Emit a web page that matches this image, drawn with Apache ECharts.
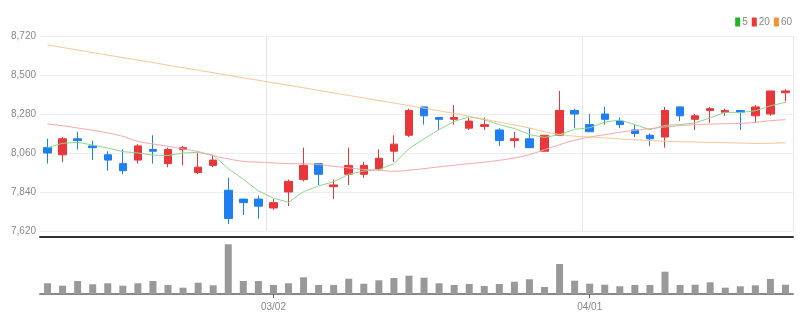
<!DOCTYPE html>
<html>
<head>
<meta charset="utf-8">
<script src="https://cdn.jsdelivr.net/npm/echarts@6/dist/echarts.min.js"></script>
<style>html,body{margin:0;padding:0;background:#fff;}#chart{width:810px;height:330px;}</style>
</head>
<body>
<div id="chart"></div>
<script>
var dates = ['02/08','02/09','02/10','02/11','02/14','02/15','02/16','02/17','02/18','02/21',
  '02/22','02/23','02/24','02/25','02/28','03/02','03/03','03/04','03/07','03/08',
  '03/10','03/11','03/14','03/15','03/16','03/17','03/18','03/21','03/22','03/23',
  '03/24','03/25','03/28','03/29','03/30','03/31','04/01','04/04','04/05','04/06',
  '04/07','04/08','04/11','04/12','04/13','04/14','04/15','04/18','04/19','04/20'];
var tickLabels = ['03/02','04/01'];
var opens  = [8090,8050,8140,8100,8050,8000,8020,8080,8000,8080,7950,7990,7850,7800,7800,7750,7840,7910,8000,7870,
              7940,7940,7970,8070,8160,8320,8260,8250,8200,8210,8190,8130,8140,8070,8160,8300,8220,8280,8240,8190,
              8160,8150,8320,8250,8300,8290,8300,8270,8280,8400];
var closes = [8060,8140,8130,8090,8020,7960,8100,8070,8080,8090,7980,8020,7690,7780,7760,7780,7900,7990,7940,7880,
              7990,7990,8030,8110,8300,8270,8250,8260,8240,8220,8130,8140,8090,8160,8300,8280,8180,8250,8220,8170,
              8140,8300,8270,8270,8310,8300,8290,8320,8410,8410];
var lows   = [8000,8010,8080,8020,7960,7940,8000,8000,7980,7990,7940,7980,7660,7710,7690,7740,7760,7900,7880,7800,
              7880,7920,7960,8010,8150,8220,8190,8220,8190,8190,8100,8090,8090,8070,8160,8200,8180,8220,8200,8150,
              8100,8090,8240,8190,8230,8270,8190,8230,8270,8350];
var highs  = [8140,8150,8180,8130,8070,8080,8110,8160,8090,8100,8060,8050,7920,7800,7820,7800,7910,8090,8000,7910,
              8090,8010,8080,8160,8310,8320,8260,8330,8260,8260,8200,8180,8200,8160,8410,8310,8280,8320,8260,8220,
              8170,8320,8320,8280,8320,8310,8300,8330,8410,8420];
var volumes = [107,83,130,97,107,83,107,130,90,63,113,87,497,130,130,90,107,167,90,90,
               153,103,137,160,183,163,107,90,100,80,100,123,147,70,300,133,103,93,77,90,
               90,223,90,93,117,63,77,87,150,93];
var ma5  = [8090,8115,8120,8105,8088,8068,8060,8048,8046,8060,8064,8048,7972,7912,7846,7806,7782,7842,7874,7898,
            7940,7958,7966,8000,8084,8140,8192,8238,8264,8248,8220,8198,8164,8148,8164,8194,8202,8234,8246,8220,
            8192,8216,8220,8230,8258,8290,8288,8298,8326,8346];
var ma20 = [8223,8214,8201,8188,8173,8154,8126,8111,8098,8083,8068,8045,8027,8013,8008,8004,8000,7999,7995,7985,
            7976,7967,7963,7957,7963,7972,7982,7991,8000,8008,8019,8032,8051,8079,8107,8132,8150,8163,8177,8188,
            8197,8207,8214,8220,8223,8225,8227,8233,8242,8248];
var ma60 = [8669,8655,8641,8626,8612,8598,8584,8570,8555,8541,8527,8513,8498,8484,8470,8456,8442,8428,8413,8399,
            8385,8370,8356,8342,8327,8313,8298,8283,8267,8251,8234,8218,8201,8180,8165,8155,8150,8145,8139,8134,
            8130,8126,8124,8122,8120,8118,8116,8114,8115,8118];
var priceTicks = [7620, 8720, 220];

var FONT = "'Liberation Sans Narrow','Liberation Sans',sans-serif";
var candleData = dates.map(function (d, i) { return [opens[i], closes[i], lows[i], highs[i]]; });
function isTick(idx) { return tickLabels.indexOf(dates[idx]) >= 0; }

var chart = echarts.init(document.getElementById('chart'), null, {renderer: 'canvas'});
chart.setOption({
  animation: false,
  backgroundColor: '#fff',
  legend: {
    data: ['5', '20', '60'],
    right: 18, top: 17,
    icon: 'rect', itemWidth: 5, itemHeight: 9, itemGap: 4,
    padding: 0,
    textStyle: {color: '#888', fontSize: 10, fontFamily: FONT, padding: [0, 0, 0, -3]}
  },
  grid: [
    {left: 40, right: 17, top: 36, height: 195},
    {left: 40, right: 17, top: 238, height: 56}
  ],
  xAxis: [
    {
      type: 'category', gridIndex: 0, data: dates, boundaryGap: true,
      offset: 6,
      axisLine: {show: true, lineStyle: {color: '#333', width: 2}},
      axisTick: {show: false}, axisLabel: {show: false},
      splitLine: {show: true, interval: function (i) { return isTick(i); }, lineStyle: {color: '#e6e6e6'}}
    },
    {
      type: 'category', gridIndex: 1, data: dates, boundaryGap: true,
      axisLine: {show: true, lineStyle: {color: '#888', width: 2}},
      axisTick: {show: true, alignWithLabel: true, interval: function (i) { return isTick(i); }, length: 4, lineStyle: {color: '#666'}},
      axisLabel: {show: true, interval: function (i) { return isTick(i); }, color: '#888', fontSize: 10, fontFamily: FONT, margin: 8},
      splitLine: {show: false}
    }
  ],
  yAxis: [
    {
      type: 'value', gridIndex: 0, min: priceTicks[0], max: priceTicks[1], interval: priceTicks[2],
      axisLine: {show: false}, axisTick: {show: false},
      axisLabel: {color: '#888', fontSize: 10, fontFamily: FONT, margin: 4,
        formatter: function (v) { return v.toLocaleString('en-US'); }},
      splitLine: {show: true, lineStyle: {color: '#eeeeee'}}
    },
    {
      type: 'value', gridIndex: 1, min: 0, max: 560, show: false,
      splitLine: {show: false}
    }
  ],
  series: [
    {
      name: 'price', type: 'candlestick', xAxisIndex: 0, yAxisIndex: 0,
      data: candleData, barWidth: 8,
      itemStyle: {color: '#e8373a', color0: '#1e7ff0', borderColor: '#e8373a', borderColor0: '#1e7ff0', borderWidth: 1}
    },
    {
      name: '5', type: 'line', xAxisIndex: 0, yAxisIndex: 0, data: ma5,
      symbol: 'none', smooth: false,
      itemStyle: {color: '#22b422'}, lineStyle: {color: '#8ed88e', width: 1}
    },
    {
      name: '20', type: 'line', xAxisIndex: 0, yAxisIndex: 0, data: ma20,
      symbol: 'none', smooth: true,
      itemStyle: {color: '#ee3535'}, lineStyle: {color: '#f5a5a5', width: 1}
    },
    {
      name: '60', type: 'line', xAxisIndex: 0, yAxisIndex: 0, data: ma60,
      symbol: 'none', smooth: true,
      itemStyle: {color: '#f39230'}, lineStyle: {color: '#f7c48f', width: 1}
    },
    {
      name: 'volume', type: 'bar', xAxisIndex: 1, yAxisIndex: 1, data: volumes,
      barWidth: 7, itemStyle: {color: '#999999'}
    }
  ]
});
</script>
</body>
</html>
